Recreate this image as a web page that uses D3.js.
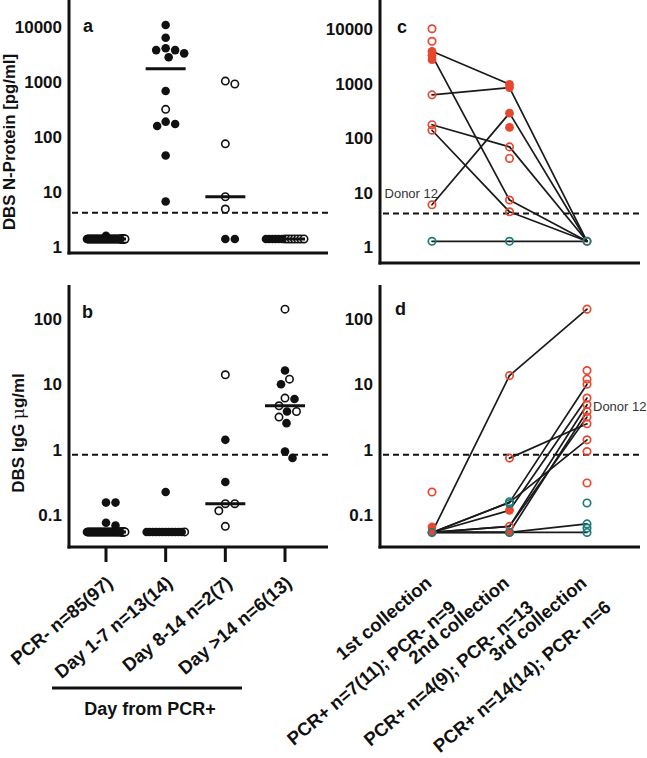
<!DOCTYPE html>
<html><head><meta charset="utf-8">
<script src="https://cdn.jsdelivr.net/npm/d3@7"></script>
<style>
body{margin:0;background:#fff}
svg{display:block}
text{font-family:"Liberation Sans",Arial,sans-serif}
</style></head><body>
<svg id="chart" width="647" height="758"></svg>
<script>
// ---------------- DATA ----------------
const groupLabels = ["PCR- n=85(97)", "Day 1-7 n=13(14)", "Day 8-14 n=2(7)", "Day >14 n=6(13)"];
const groupTitle = "Day from PCR+";
const ticksN = [1, 10, 100, 1000, 10000];
const ticksIgG = [0.1, 1, 10, 100];
const cutoffN = 4.2;
const cutoffIgG = 0.84;

// Panel a: DBS N-Protein [pg/ml]
const aFilled = [
  [1.6,
   1.4,1.4,1.4,1.4,1.4,1.4,1.4,1.4,1.4,1.4,1.4,1.4,1.4,1.4,1.4,1.4,1.4,1.4,1.4,1.4,
   1.4,1.4,1.4,1.4,1.4,1.4,1.4,1.4,1.4,1.4,1.4,1.4,1.4,1.4,1.4,1.4,1.4,1.4,1.4,1.4,
   1.4,1.4,1.4,1.4,1.4,1.4,1.4,1.4,1.4,1.4,1.4,1.4,1.4,1.4,1.4,1.4,1.4,1.4,1.4,1.4,
   1.4,1.4,1.4,1.4,1.4,1.4,1.4,1.4,1.4,1.4,1.4,1.4,1.4,1.4,1.4,1.4,1.4,1.4,1.4,1.4,
   1.4,1.4,1.4,1.4],
  [10870, 6390, 4100, 3800, 3320, 3800, 2810, 686, 190, 172, 158, 46, 6.7],
  [1.4, 1.4],
  [1.4, 1.4, 1.4, 1.4, 1.4, 1.4]
];
const aOpen = [
  [1.4,1.4,1.4,1.4,1.4,1.4,1.4,1.4,1.4,1.4,1.4,1.4],
  [318],
  [1040, 920, 75, 8.2, 4.9],
  [1.4, 1.4, 1.4, 1.4, 1.4, 1.4, 1.4]
];

// Panel b: DBS IgG ug/ml
const bFilled = [
  [0.155, 0.155, 0.076, 0.069,
   0.055,0.055,0.055,0.055,0.055,0.055,0.055,0.055,0.055,0.055,0.055,0.055,0.055,0.055,0.055,0.055,0.055,0.055,0.055,0.055,
   0.055,0.055,0.055,0.055,0.055,0.055,0.055,0.055,0.055,0.055,0.055,0.055,0.055,0.055,0.055,0.055,0.055,0.055,0.055,0.055,
   0.055,0.055,0.055,0.055,0.055,0.055,0.055,0.055,0.055,0.055,0.055,0.055,0.055,0.055,0.055,0.055,0.055,0.055,0.055,0.055,
   0.055,0.055,0.055,0.055,0.055,0.055,0.055,0.055,0.055,0.055,0.055,0.055,0.055,0.055,0.055,0.055,0.055,0.055,0.055,0.055,
   0.055],
  [0.225, 0.055,0.055,0.055,0.055,0.055,0.055,0.055,0.055,0.055,0.055,0.055,0.055],
  [1.42, 0.32],
  [16.4, 10.1, 6.0, 3.86, 2.56, 0.94, 0.75]
];
const bOpen = [
  [0.055,0.055,0.055,0.055,0.055,0.055,0.055,0.055,0.055,0.055,0.055,0.055],
  [0.055],
  [14.1, 0.149, 0.149, 0.116, 0.067],
  [143, 12.1, 6.2, 4.72, 3.86, 3.17]
];

// Panels c, d: paired collections
const collections = ["1st collection", "2nd collection", "3rd collection"];
const collectionN = ["PCR+ n=7(11); PCR- n=9", "PCR+ n=4(9); PCR- n=13", "PCR+ n=14(14); PCR- n=6"];

const cRedOpen   = [[10100, 5970, 623, 177, 140, 6.05], [69.5, 42.7, 7.4, 4.5], [1.3]];
const cRedFilled = [[3900, 3300, 2750], [972, 846, 288, 158], []];
const cTealOpen  = [[1.3], [1.3], [1.3]];
const cPairs = [
  [3900, 972, null],
  [3300, 7.4, 1.3],
  [623, 846, 1.3],
  [177, 69.5, 1.3],
  [140, 4.5, 1.3],
  [6.05, 288, 1.3],
  [1.3, 1.3, 1.3]
];
const cDonor = [0, 6.05];   // collection index, value

const dRedOpen   = [[0.225], [13.7, 0.745, 0.067], [143, 16.4, 12.1, 10.1, 6.2, 4.9, 3.86, 3.17, 2.5, 1.42, 0.94, 0.31]];
const dRedFilled = [[0.0655, 0.054], [0.118, 0.054], []];
const dTealOpen  = [[0.054], [0.16, 0.15, 0.054], [0.153, 0.073, 0.063, 0.054]];
const dPairs = [
  [0.054, 13.7, 143],
  [null, 0.745, 2.5],
  [0.054, 0.156, 10.1],
  [0.054, 0.156, 1.42],
  [0.054, 0.118, 6.2],
  [0.054, 0.067, 4.9],
  [0.054, 0.067, 3.17],
  [0.054, 0.054, 3.86],
  [0.054, 0.054, 0.073],
  [0.054, 0.054, 0.054]
];
const dDonor = [2, 4.9];

// ---------------- LAYOUT ----------------
const INK = "#111";
const RED = "#E8472F";
const TEAL = "#1C7A78";
const ANGLE = -40;
const svg = d3.select("#chart");

const xAB = d3.scalePoint().domain(groupLabels).range([106, 285]);
const xCD = d3.scalePoint().domain(collections).range([432, 587]);
const yA = d3.scaleLog().domain([1, 10000]).range([247, 27]);
const yC = d3.scaleLog().domain([1, 10000]).range([247.5, 29]);
const yB = d3.scaleLog().domain([0.1, 100]).range([515, 319.3]);
const yD = d3.scaleLog().domain([0.1, 100]).range([515, 319.3]);

function yAxis(x, scale, ticks) {
  const g = svg.append("g").attr("transform", `translate(${x},0)`)
    .call(d3.axisLeft(scale).tickValues(ticks).tickSize(0).tickPadding(7).tickFormat(d3.format("~g")));
  g.select(".domain").remove();
  g.attr("font-size", 17).attr("font-family", null);
  g.selectAll("text").attr("font-weight", "bold").attr("fill", INK);
}
function frame(x, top, bottom, right) {
  svg.append("line").attr("x1", x).attr("x2", x).attr("y1", top).attr("y2", bottom + 1.5)
    .attr("stroke", INK).attr("stroke-width", 3);
  svg.append("line").attr("x1", x - 1.5).attr("x2", right).attr("y1", bottom).attr("y2", bottom)
    .attr("stroke", INK).attr("stroke-width", 3);
}
function cutoff(scale, v, x1, x2) {
  svg.append("line").attr("x1", x1).attr("x2", x2).attr("y1", scale(v)).attr("y2", scale(v))
    .attr("stroke", INK).attr("stroke-width", 2).attr("stroke-dasharray", "6,4");
}
function panelLetter(t, x, y) {
  svg.append("text").attr("x", x).attr("y", y).text(t)
    .attr("font-size", 18).attr("font-weight", "bold").attr("fill", INK);
}

// swarm layout: big identical-value groups spread evenly, others beeswarm
function layout(pts, yScale) {
  const W = 19, D = 9.5, MAXOFF = 24;
  const counts = d3.rollup(pts, v => v.length, d => d.v);
  pts.forEach(p => p.y = yScale(p.v));
  const blob = pts.filter(p => counts.get(p.v) >= 6);
  const rest = pts.filter(p => counts.get(p.v) < 6);
  for (const [, arr] of d3.group(blob, d => d.v)) {
    arr.sort((a, b) => b.filled - a.filled);
    const n = arr.length;
    arr.forEach((p, i) => p.dx = n > 1 ? -W + 2 * W * i / (n - 1) : 0);
  }
  const offs = [0];
  for (let s = 0.5; s <= MAXOFF; s += 0.5) offs.push(s, -s);
  const placed = [];
  rest.sort((a, b) => b.v - a.v);
  for (const p of rest) {
    let best = 0, bestScore = -Infinity;
    for (const o of offs) {
      let md = Infinity;
      for (const q of placed) md = Math.min(md, Math.hypot(o - q.dx, p.y - q.y));
      if (md >= D) { best = o; bestScore = Infinity; break; }
      if (md > bestScore) { bestScore = md; best = o; }
    }
    p.dx = best;
    placed.push(p);
  }
  return pts;
}

function scatterPanel(yScale, filledArr, openArr) {
  groupLabels.forEach((cat, ci) => {
    const pts = layout(
      filledArr[ci].map(v => ({ v, filled: true })).concat(openArr[ci].map(v => ({ v, filled: false }))),
      yScale);
    const cx = xAB(cat);
    const g = svg.append("g");
    g.selectAll(null).data(pts.filter(p => !p.filled)).join("circle")
      .attr("cx", p => cx + p.dx).attr("cy", p => p.y).attr("r", 3.7)
      .attr("fill", "#fff").attr("stroke", INK).attr("stroke-width", 1.6);
    g.selectAll(null).data(pts.filter(p => p.filled)).join("circle")
      .attr("cx", p => cx + p.dx).attr("cy", p => p.y).attr("r", 4.3).attr("fill", INK);
    const med = d3.median(pts, p => p.v);
    g.append("line").attr("x1", cx - 20).attr("x2", cx + 20)
      .attr("y1", yScale(med)).attr("y2", yScale(med))
      .attr("stroke", INK).attr("stroke-width", 3);
  });
}

function pairPanel(yScale, redOpen, redFilled, tealOpen, pairs) {
  const g = svg.append("g");
  pairs.forEach(row => {
    for (let i = 0; i < row.length - 1; i++) {
      if (row[i] == null || row[i + 1] == null) continue;
      g.append("line")
        .attr("x1", xCD(collections[i])).attr("y1", yScale(row[i]))
        .attr("x2", xCD(collections[i + 1])).attr("y2", yScale(row[i + 1]))
        .attr("stroke", "#1a1a1a").attr("stroke-width", 1.7).attr("stroke-linecap", "round");
    }
  });
  collections.forEach((c, ci) => {
    const cx = xCD(c);
    g.selectAll(null).data(redFilled[ci]).join("circle")
      .attr("cx", cx).attr("cy", v => yScale(v)).attr("r", 4.4).attr("fill", RED);
    g.selectAll(null).data(redOpen[ci]).join("circle")
      .attr("cx", cx).attr("cy", v => yScale(v)).attr("r", 3.7)
      .attr("fill", "none").attr("stroke", RED).attr("stroke-width", 1.7);
    g.selectAll(null).data(tealOpen[ci]).join("circle")
      .attr("cx", cx).attr("cy", v => yScale(v)).attr("r", 3.7)
      .attr("fill", "none").attr("stroke", TEAL).attr("stroke-width", 1.7);
  });
}

// ---------- Panel a ----------
frame(69, 0, 253, 328);
yAxis(69, yA, ticksN);
cutoff(yA, cutoffN, 72, 328);
scatterPanel(yA, aFilled, aOpen);
panelLetter("a", 83, 32);
svg.append("text").attr("transform", "translate(15,142) rotate(-90)").attr("text-anchor", "middle")
  .attr("font-size", 16.8).attr("font-weight", "bold").attr("fill", INK).text("DBS N-Protein [pg/ml]");

// ---------- Panel b ----------
frame(69, 285, 547, 328);
yAxis(69, yB, ticksIgG);
cutoff(yB, cutoffIgG, 72, 328);
scatterPanel(yB, bFilled, bOpen);
panelLetter("b", 82, 318);
{
  const t = svg.append("text").attr("transform", "translate(24,433) rotate(-90)").attr("text-anchor", "middle")
    .attr("font-size", 17).attr("font-weight", "bold").attr("fill", INK);
  t.append("tspan").text("DBS IgG ");
  t.append("tspan").attr("font-weight", "normal").attr("font-family", "DejaVu Serif, serif").text("\u03BC");
  t.append("tspan").text("g/ml");
}
// x ticks + rotated labels
groupLabels.forEach(cat => {
  const x = xAB(cat);
  svg.append("line").attr("x1", x).attr("x2", x).attr("y1", 547).attr("y2", 562)
    .attr("stroke", INK).attr("stroke-width", 3);
  svg.append("text").attr("transform", `translate(${x + 8},585) rotate(${ANGLE})`)
    .attr("text-anchor", "end").attr("font-size", 18.5).attr("font-weight", "bold").attr("fill", INK).text(cat);
});
svg.append("line").attr("x1", 52).attr("x2", 242).attr("y1", 688).attr("y2", 688)
  .attr("stroke", INK).attr("stroke-width", 3);
svg.append("text").attr("x", 150).attr("y", 715).attr("text-anchor", "middle")
  .attr("font-size", 18).attr("font-weight", "bold").attr("fill", INK).text(groupTitle);

// ---------- Panel c ----------
frame(380, 0, 263, 640);
yAxis(380, yC, ticksN);
cutoff(yC, cutoffN, 383, 640);
pairPanel(yC, cRedOpen, cRedFilled, cTealOpen, cPairs);
panelLetter("c", 397, 33);
svg.append("text").attr("x", xCD(collections[cDonor[0]]) + 6).attr("y", yC(cDonor[1]) - 7)
  .attr("text-anchor", "end").attr("font-size", 13).attr("fill", "#333").text("Donor 12");

// ---------- Panel d ----------
frame(380, 285, 547, 640);
yAxis(380, yD, ticksIgG);
cutoff(yD, cutoffIgG, 383, 640);
pairPanel(yD, dRedOpen, dRedFilled, dTealOpen, dPairs);
panelLetter("d", 395, 315);
svg.append("text").attr("x", xCD(collections[dDonor[0]]) + 6).attr("y", yD(dDonor[1]) + 6)
  .attr("font-size", 13).attr("fill", "#333").text("Donor 12");

collections.forEach((c, i) => {
  const x = xCD(c);
  const g = svg.append("g").attr("transform", `translate(${x + 1},585) rotate(${ANGLE})`)
    .attr("font-size", 18.5).attr("font-weight", "bold").attr("fill", INK).attr("text-anchor", "end");
  g.append("text").text(c);
  g.append("text").attr("x", 3).attr("y", 34).text(collectionN[i]);
});
</script></body></html>
